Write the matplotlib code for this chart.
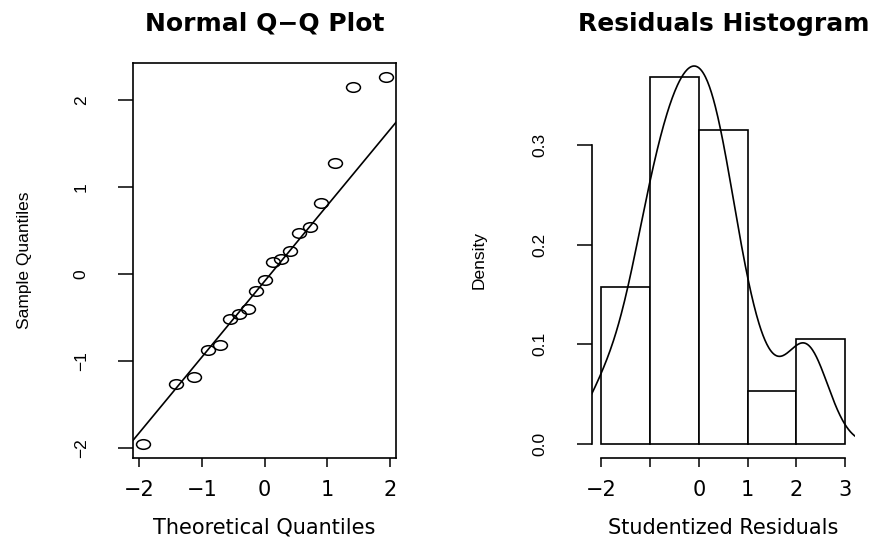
import numpy as np
import matplotlib
matplotlib.use('Agg')
import matplotlib.pyplot as plt
from matplotlib.path import Path
from matplotlib.transforms import Affine2D

plt.rcParams['font.family'] = ['DejaVu Sans']

# ── data ──────────────────────────────────────────────────────────────
theo_q = [-1.938, -1.412, -1.119, -0.900, -0.716, -0.555, -0.407, -0.267,
          -0.132, 0.0, 0.132, 0.267, 0.407, 0.555, 0.716, 0.900, 1.119,
          1.412, 1.938]
resid = [-1.950, -1.265, -1.188, -0.878, -0.821, -0.522, -0.465, -0.404,
         -0.201, -0.067, 0.132, 0.170, 0.266, 0.473, 0.537, 0.817, 1.272,
         2.153, 2.260]
hist_breaks = [-2, -1, 0, 1, 2, 3]

qq_xticks = [-2, -1, 0, 1, 2]
qq_yticks = [-2, -1, 0, 1, 2]
hist_xticks = [-2, -1, 0, 1, 2, 3]
hist_xlabels = ['-2', '', '0', '1', '2', '3']   # R drops "-1" (overlap)
hist_yticks = [0.0, 0.1, 0.2, 0.3]

Z_Q3 = 0.6745          # standard normal 75% quantile (qqline)

resid = np.array(resid)

# R-ish fonts: wide horizontal text, narrow rotated text
ROT_FAMILY = ['Liberation Sans', 'DejaVu Sans']
ROT_SIZE = 12.5
H_SIZE = 15
T_SIZE = 18


def minus(v):
    return str(v).replace('-', '\u2212')


fig = plt.figure(figsize=(8.75, 5.37), dpi=100)
ax1 = fig.add_axes([0.1523, 0.1466, 0.3002, 0.7367])
ax2 = fig.add_axes([0.6762, 0.1466, 0.3009, 0.7367])

# open "circle", stretched sideways like the reference
ell = Affine2D().scale(1.45, 1.0).transform_path(Path.unit_circle())

# ── Q-Q plot ──────────────────────────────────────────────────────────
ax1.plot(theo_q, resid, linestyle='none', marker=ell, markersize=10,
         mfc='none', mec='black', mew=1.1)
q1, q3 = np.percentile(resid, [25, 75])
slope = (q3 - q1) / (2 * Z_Q3)
ax1.axline((0, (q1 + q3) / 2), slope=slope, color='black', lw=1.2)
ax1.margins(0.04)
ax1.autoscale_view()

ax1.set_xticks(qq_xticks, [minus(t) for t in qq_xticks], fontsize=H_SIZE)
ax1.set_yticks(qq_yticks, [minus(t) for t in qq_yticks], rotation=90,
               va='center', fontfamily=ROT_FAMILY, fontsize=ROT_SIZE)
ax1.tick_params(axis='x', length=6.5, width=1.1, pad=9)
ax1.tick_params(axis='y', length=11, width=1.1, pad=21)
for s in ax1.spines.values():
    s.set_linewidth(1.2)
ax1.set_xlabel('Theoretical Quantiles', fontsize=H_SIZE, labelpad=13)
ax1.set_ylabel('Sample Quantiles', labelpad=30, fontfamily=ROT_FAMILY,
               fontsize=ROT_SIZE)
ax1.set_title('Normal Q\u2212Q Plot', fontsize=T_SIZE, fontweight='bold', pad=23)

# ── histogram + density ───────────────────────────────────────────────
dens_h, edges, _ = ax2.hist(resid, bins=hist_breaks, density=True,
                            facecolor='white', edgecolor='black', lw=1.2)
span = edges[-1] - edges[0]
ax2.set_xlim(edges[0] - 0.04 * span, edges[-1] + 0.04 * span)
top = dens_h.max()
ax2.set_ylim(-0.04 * top, 1.04 * top)

# gaussian kernel density, bandwidth as R's bw.nrd0
n = len(resid)
iqr = q3 - q1
bw = 0.9 * min(resid.std(ddof=1), iqr / 1.34) * n ** (-0.2)
grid = np.linspace(resid.min() - 3 * bw, resid.max() + 3 * bw, 512)
kde = np.exp(-0.5 * ((grid[:, None] - resid[None, :]) / bw) ** 2).sum(axis=1)
kde /= n * bw * np.sqrt(2 * np.pi)
ax2.plot(grid, kde, color='black', lw=1.2)

ax2.spines['top'].set_visible(False)
ax2.spines['right'].set_visible(False)
ax2.spines['bottom'].set_bounds(hist_xticks[0], hist_xticks[-1])
ax2.spines['left'].set_bounds(hist_yticks[0], hist_yticks[-1])
for s in ax2.spines.values():
    s.set_linewidth(1.2)
ax2.set_xticks(hist_xticks, [minus(l) for l in hist_xlabels], fontsize=H_SIZE)
ax2.set_yticks(hist_yticks, [f'{t:.1f}' for t in hist_yticks], rotation=90,
               va='center', fontfamily=ROT_FAMILY, fontsize=ROT_SIZE)
ax2.tick_params(axis='x', length=6.5, width=1.1, pad=9)
ax2.tick_params(axis='y', length=11, width=1.1, pad=21)
ax2.set_xlabel('Studentized Residuals', fontsize=H_SIZE, labelpad=13)
ax2.set_ylabel('Density', labelpad=33, fontfamily=ROT_FAMILY, fontsize=ROT_SIZE)
ax2.set_title('Residuals Histogram', fontsize=T_SIZE, fontweight='bold', pad=23)

fig.savefig('out.png', dpi=100)
